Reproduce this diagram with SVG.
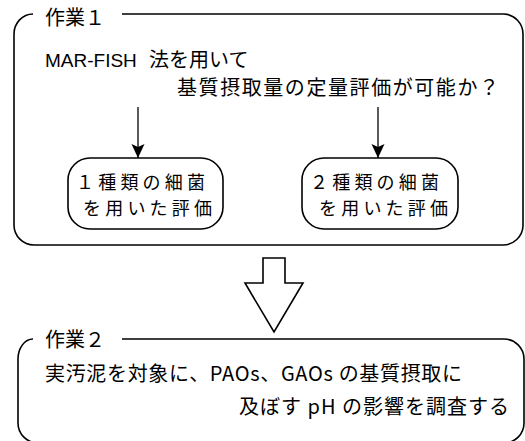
<svg xmlns="http://www.w3.org/2000/svg" width="525" height="441" viewBox="0 0 525 441">
  <style>
    .frame { fill: none; stroke: #000; stroke-width: 1.6; }
    .node { fill: #fff; stroke: #000; stroke-width: 1.6; }
    .conn { fill: none; stroke: #000; stroke-width: 1.3; }
    .t { font-family: "Noto Sans CJK JP", "Liberation Sans", sans-serif; font-size: 20px; fill: #000; }
    .s { font-size: 18px; }
    .lat { font-family: "Liberation Sans", "Noto Sans CJK JP", sans-serif; }
  </style>
  <defs>
    <marker id="ah" markerWidth="16" markerHeight="14" refX="15" refY="7" orient="auto" markerUnits="userSpaceOnUse" viewBox="0 0 16 14">
      <path d="M1,0.5 L15,7 L1,13.5 L4,7 Z" fill="#000"/>
    </marker>
  </defs>
  <rect width="525" height="441" fill="#fff"/>

  <g id="task1">
    <path class="frame" d="M122,14 H504 A20,20 0 0 1 523,34 V226 A20,20 0 0 1 503,245 H34 A20,20 0 0 1 14,225 V34 A19,20 0 0 1 33,14"/>
    <text class="t" x="45" y="25">作業１</text>
    <text class="t" x="45" y="67"><tspan class="lat" font-size="19">MAR-FISH</tspan><tspan x="149">法を用いて</tspan></text>
    <text class="t" x="177" y="95" textLength="322" lengthAdjust="spacing">基質摂取量の定量評価が可能か？</text>
  </g>

  <g id="eval1">
    <rect class="node" x="68" y="158" width="155" height="71" rx="22" ry="22"/>
    <text class="t s" x="76" y="189" textLength="129" lengthAdjust="spacing">１種類の細菌</text>
    <text class="t s" x="83" y="215" textLength="129" lengthAdjust="spacing">を用いた評価</text>
  </g>

  <g id="eval2">
    <rect class="node" x="302" y="158" width="156" height="71" rx="22" ry="22"/>
    <text class="t s" x="310" y="189" textLength="129" lengthAdjust="spacing">２種類の細菌</text>
    <text class="t s" x="319" y="215" textLength="129" lengthAdjust="spacing">を用いた評価</text>
  </g>

  <g id="task2">
    <path class="frame" d="M122,339 H504 A20,20 0 0 1 524,359 V423 A20,20 0 0 1 504,443 H38 A20,20 0 0 1 18,423 V359 A15,20 0 0 1 33,339"/>
    <text class="t" x="45" y="347">作業２</text>
    <text class="t" x="45" y="381" textLength="417" lengthAdjust="spacing">実汚泥を対象に、PAOs、GAOs の基質摂取に</text>
    <text class="t" x="239" y="414" textLength="270" lengthAdjust="spacing">及ぼす pH の影響を調査する</text>
  </g>

  <g id="connectors">
    <line class="conn" x1="138" y1="107" x2="138" y2="158" marker-end="url(#ah)"/>
    <line class="conn" x1="378" y1="107" x2="378" y2="158" marker-end="url(#ah)"/>
    <polygon class="node" points="263,258 285,258 285,283 303,283 274,332 245,283 263,283"/>
  </g>
</svg>
